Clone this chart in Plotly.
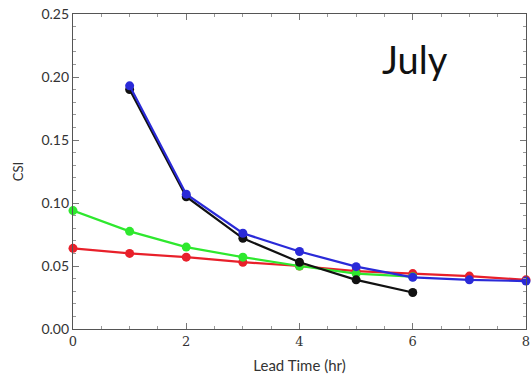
import plotly.graph_objects as go

lead = [0, 1, 2, 3, 4, 5, 6, 7, 8]
black_x = [1, 2, 3, 4, 5, 6]
black_y = [0.190, 0.105, 0.072, 0.053, 0.039, 0.029]
blue_x = [1, 2, 3, 4, 5, 6, 7, 8]
blue_y = [0.193, 0.107, 0.076, 0.0615, 0.0495, 0.041, 0.039, 0.038]
green_x = [0, 1, 2, 3, 4, 5, 6]
green_y = [0.094, 0.0775, 0.065, 0.057, 0.050, 0.044, 0.0415]
red_x = [0, 1, 2, 3, 4, 5, 6, 7, 8]
red_y = [0.064, 0.060, 0.057, 0.053, 0.050, 0.046, 0.044, 0.042, 0.039]

xticks = [0, 2, 4, 6, 8]
yticks = [0.00, 0.05, 0.10, 0.15, 0.20, 0.25]
ytick_text = ["0.00", "0.05", "0.10", "0.15", "0.20", "0.25"]

fig = go.Figure()
series = [
    (red_x, red_y, "#e8202a"),
    (green_x, green_y, "#2ee82e"),
    (black_x, black_y, "#111111"),
    (blue_x, blue_y, "#2a2ad8"),
]
for xs, ys, c in series:
    fig.add_trace(go.Scatter(x=xs, y=ys, mode="lines+markers",
                             line=dict(color=c, width=2.2),
                             marker=dict(color=c, size=9),
                             showlegend=False, cliponaxis=False))

axis_common = dict(showline=True, linecolor="#555555", linewidth=1.2, mirror="ticks",
                   ticks="inside", ticklen=6, tickcolor="#777777",
                   showgrid=False, zeroline=False, automargin=False)
fig.update_xaxes(range=[0, 8], tickvals=xticks,
                 tickfont=dict(family="DejaVu Serif", size=13, color="#333333"),
                 minor=dict(ticks="inside", ticklen=3, dtick=0.5, tickcolor="#999999"),
                 title=dict(text="Lead Time (hr)", font=dict(family="Lato", size=15, color="#333333"), standoff=12),
                 **axis_common)
fig.update_yaxes(range=[0, 0.25], tickvals=yticks, ticktext=ytick_text,
                 tickfont=dict(family="Lato", size=14, color="#333333"),
                 minor=dict(ticks="inside", ticklen=3, dtick=0.01, tickcolor="#999999"),
                 title=dict(text="CSI", font=dict(family="Lato", size=13, color="#333333"), standoff=14),
                 **axis_common)

fig.add_annotation(text="July", x=0.755, y=0.856, xref="paper", yref="paper",
                   xanchor="center", yanchor="middle",
                   showarrow=False, font=dict(family="Lato", size=38, color="#111111"))

fig.update_layout(width=532, height=375, margin=dict(l=73, r=6, t=14, b=46),
                  plot_bgcolor="white", paper_bgcolor="white")
fig.write_html("out.html")
